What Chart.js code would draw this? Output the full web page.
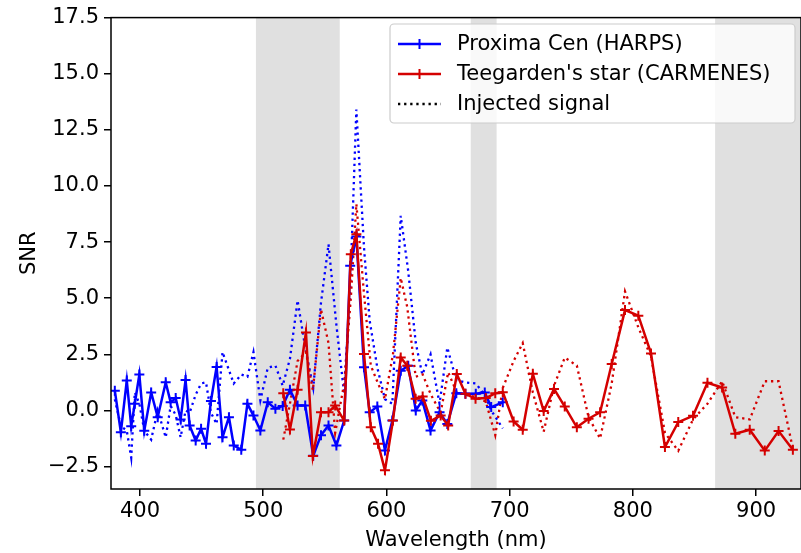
<!DOCTYPE html>
<html>
<head>
<meta charset="utf-8">
<script src="https://cdn.jsdelivr.net/npm/chart.js@4.4.1/dist/chart.umd.min.js"></script>
<style>
  html, body { margin: 0; padding: 0; background: #fff; }
  #chart { width: 801px; height: 553px; }
</style>
</head>
<body>
<div id="chart"><canvas id="snrChart" width="801" height="553"></canvas></div>
<script>
// Proxima Cen (HARPS) - wavelength (nm), measured SNR, injected signal SNR
const blueWl = [379.6, 384.5, 389.3, 392.9, 395.8, 399.5, 403.5, 409.1, 414.4, 420.9,
  424.9, 429.0, 433.0, 437.0, 440.3, 445.2, 449.6, 453.6, 457.6, 462.2,
  467.0, 472.2, 476.1, 482.2, 487.2, 492.1, 497.7, 503.7, 509.9, 515.8,
  521.7, 527.9, 534.1, 540.6, 546.9, 553.0, 559.4, 565.7, 570.6, 575.6,
  581.8, 586.4, 592.6, 598.8, 604.8, 611.6, 617.7, 623.8, 629.1, 635.8,
  643.1, 649.4, 656.7, 664.1, 672.5, 679.8, 685.0, 694.4]
const blueSnr = [0.88, -0.97, 1.33, -0.7, 0.3, 1.6, -0.9, 0.8, -0.3, 1.25,
  0.36, 0.55, -0.4, 1.36, -0.67, -1.34, -0.82, -1.48, 0.42, 1.94,
  -1.2, -0.3, -1.56, -1.75, 0.3, -0.23, -0.89, 0.36, 0.08, 0.2,
  0.92, 0.22, 0.22, -2.02, -1.1, -0.67, -1.56, -0.45, 6.45, 7.75,
  1.92, -0.08, 0.17, -1.78, -0.45, 1.77, 1.99, 0.0, 0.44, -0.89,
  -0.08, -0.6, 0.77, 0.74, 0.74, 0.8, 0.15, 0.36]
const blueInj = [0.5, -0.7, -0.9, -2.1, 0.8, 0.3, -0.9, -1.3, 0.0, -1.2,
  0.2, -0.2, -1.2, 0.0, -0.1, 0.7, 1.2, 1.25, -0.1, -0.6,
  2.6, 1.8, 1.2, 1.6, 1.5, 2.6, 0.45, 1.9, 2.0, 1.1,
  2.3, 4.9, 2.8, 1.0, 4.8, 7.4, 3.8, 0.74, 5.5, 13.4,
  7.25, 4.0, 1.9, 0.5, 0.3, 8.67, 6.2, 3.0, 1.6, 2.5,
  0.3, 2.8, 1.35, 1.25, 1.2, 0.7, 0.0, -0.8]

// Teegarden's star (CARMENES)
const redWl = [516.3, 521.7, 527.9, 534.7, 540.3, 546.9, 553.0, 558.4, 565.7, 571.1,
  575.6, 581.8, 587.3, 593.2, 598.8, 605.3, 611.6, 616.9, 623.7, 629.4,
  636.1, 644.0, 650.1, 657.1, 664.1, 672.3, 680.6, 688.3, 694.4, 703.2,
  710.6, 718.8, 727.6, 736.0, 744.7, 754.5, 764.0, 773.4, 782.8, 793.6,
  804.4, 814.7, 826.0, 836.8, 848.8, 860.5, 872.4, 883.1, 894.8, 907.0,
  918.2, 929.8]
const redSnr = [0.76, -0.85, 0.92, 3.47, -2.03, -0.08, -0.08, 0.22, -0.45, 6.96,
  7.85, 2.51, -0.75, -1.48, -2.67, -0.45, 2.36, 1.99, 0.52, 0.62,
  -0.46, -0.23, -0.67, 1.62, 0.74, 0.52, 0.55, 0.76, 0.81, -0.49,
  -0.86, 1.63, -0.03, 0.96, 0.17, -0.75, -0.37, -0.08, 2.07, 4.47,
  4.22, 2.54, -1.63, -0.52, -0.24, 1.23, 1.02, -1.04, -0.86, -1.79,
  -0.92, -1.75]
const redInj = [-1.3, 0.3, 2.2, 2.6, 0.9, 4.5, 3.0, -1.0, 1.2, 5.0,
  9.2, 5.2, 2.0, 1.2, 0.5, 2.5, 5.9, 4.6, 1.5, 1.6,
  0.7, -0.1, 1.7, 0.8, 0.7, 0.6, 0.4, -1.1, 1.0, 2.2,
  3.0, 0.8, -0.95, 1.1, 2.35, 2.0, -0.3, -1.25, 1.2, 5.3,
  3.7, 2.4, -1.0, -1.8, -0.4, 0.3, 1.3, -0.3, -0.4, 1.3,
  1.3, -1.7]

// shaded wavelength bands
const bandStart = [494.1, 668.4, 866.7]
const bandEnd = [562.1, 689.4, 940]

const xTicks = [400, 500, 600, 700, 800, 900]
const yTicks = [-2.5, 0, 2.5, 5, 7.5, 10, 12.5, 15, 17.5]

const BLUE = '#0000ff'
const RED = '#d40000'
const FONT = 'DejaVu Sans'

function pts(xs, ys) {
  return xs.map((x, i) => ({x: x, y: ys[i]}))
}

// grey bands behind the lines
const bandPlugin = {
  id: 'bands',
  beforeDatasetsDraw(chart) {
    const {ctx, chartArea: a, scales: {x}} = chart
    ctx.save()
    ctx.beginPath()
    ctx.rect(a.left, a.top, a.right - a.left, a.bottom - a.top)
    ctx.clip()
    ctx.fillStyle = '#e0e0e0'
    bandStart.forEach((s, i) => {
      const x0 = x.getPixelForValue(s)
      const x1 = x.getPixelForValue(bandEnd[i])
      ctx.fillRect(x0, a.top, x1 - x0, a.bottom - a.top)
    })
    ctx.restore()
  }
}

// box around the axes + legend like matplotlib
const framePlugin = {
  id: 'frame',
  afterDatasetsDraw(chart) {
    const {ctx, chartArea: a} = chart
    ctx.save()
    ctx.strokeStyle = '#000'
    ctx.lineWidth = 1.5
    ctx.strokeRect(a.left, a.top, a.right - a.left, a.bottom - a.top)
    ctx.restore()
  },
  afterDraw(chart) {
    const ctx = chart.ctx
    const bx = 390, by = 24, bw = 405, bh = 99
    ctx.save()
    ctx.beginPath()
    ctx.roundRect(bx, by, bw, bh, 4)
    ctx.fillStyle = 'rgba(255,255,255,0.8)'
    ctx.fill()
    ctx.strokeStyle = '#cccccc'
    ctx.lineWidth = 1.2
    ctx.stroke()

    const items = [
      {text: 'Proxima Cen (HARPS)', color: BLUE, dash: []},
      {text: "Teegarden's star (CARMENES)", color: RED, dash: []},
      {text: 'Injected signal', color: '#000', dash: [2.3, 3.8]}
    ]
    ctx.font = '21px "' + FONT + '"'
    ctx.textBaseline = 'middle'
    items.forEach((it, i) => {
      const yy = 44 + i * 30
      ctx.strokeStyle = it.color
      ctx.lineWidth = it.dash.length ? 2.3 : 2.5
      ctx.setLineDash(it.dash)
      ctx.beginPath()
      ctx.moveTo(398, yy)
      ctx.lineTo(441, yy)
      ctx.stroke()
      ctx.setLineDash([])
      if (!it.dash.length) {
        ctx.lineWidth = 2
        ctx.beginPath()
        ctx.moveTo(419.5 - 5, yy); ctx.lineTo(419.5 + 5, yy)
        ctx.moveTo(419.5, yy - 5); ctx.lineTo(419.5, yy + 5)
        ctx.stroke()
      }
      ctx.fillStyle = '#000'
      ctx.fillText(it.text, 457, yy + 1)
    })
    ctx.restore()
  }
}

const tickFont = {family: FONT, size: 21}

new Chart(document.getElementById('snrChart'), {
  type: 'line',
  data: {
    datasets: [
      {
        label: "Teegarden's star (CARMENES)",
        data: pts(redWl, redSnr),
        borderColor: RED, backgroundColor: RED,
        borderWidth: 2.5, pointStyle: 'cross', pointRadius: 5,
        pointBorderWidth: 2, tension: 0
      },
      {
        label: 'Proxima Cen (HARPS)',
        data: pts(blueWl, blueSnr),
        borderColor: BLUE, backgroundColor: BLUE,
        borderWidth: 2.5, pointStyle: 'cross', pointRadius: 5,
        pointBorderWidth: 2, tension: 0
      },
      {
        label: 'Injected signal (CARMENES)',
        data: pts(redWl, redInj),
        borderColor: RED, borderWidth: 2.3, borderDash: [2.3, 3.8],
        pointRadius: 0, tension: 0
      },
      {
        label: 'Injected signal (HARPS)',
        data: pts(blueWl, blueInj),
        borderColor: BLUE, borderWidth: 2.3, borderDash: [2.3, 3.8],
        pointRadius: 0, tension: 0
      }
    ]
  },
  options: {
    responsive: false,
    animation: false,
    devicePixelRatio: 1,
    layout: {autoPadding: false, padding: {top: 16, right: -2, bottom: 0, left: 0}},
    plugins: {legend: {display: false}, tooltip: {enabled: false}},
    scales: {
      x: {
        type: 'linear',
        min: 376.5,
        max: 936.4,
        afterFit: s => { s.height = 64 },
        afterBuildTicks: s => { s.ticks = xTicks.map(v => ({value: v})) },
        border: {display: false},
        grid: {drawOnChartArea: false, drawTicks: true, tickLength: 7, color: '#000', lineWidth: 1.5},
        ticks: {font: tickFont, color: '#000', padding: 3, maxRotation: 0,
          callback: v => String(v)},
        title: {display: true, text: 'Wavelength (nm)', font: tickFont, color: '#000',
          padding: {top: 0, bottom: 0}}
      },
      y: {
        min: -3.5,
        max: 17.5,
        afterFit: s => { s.width = 111 },
        afterBuildTicks: s => { s.ticks = yTicks.map(v => ({value: v})) },
        border: {display: false},
        grid: {drawOnChartArea: false, drawTicks: true, tickLength: 7, color: '#000', lineWidth: 1.5},
        ticks: {font: tickFont, color: '#000', padding: 5,
          callback: v => (v < 0 ? '\u2212' : '') + Math.abs(v).toFixed(1)},
        title: {display: true, text: 'SNR', font: tickFont, color: '#000',
          padding: {top: 17, bottom: 0}}
      }
    }
  },
  plugins: [bandPlugin, framePlugin]
})
</script>
</body>
</html>
